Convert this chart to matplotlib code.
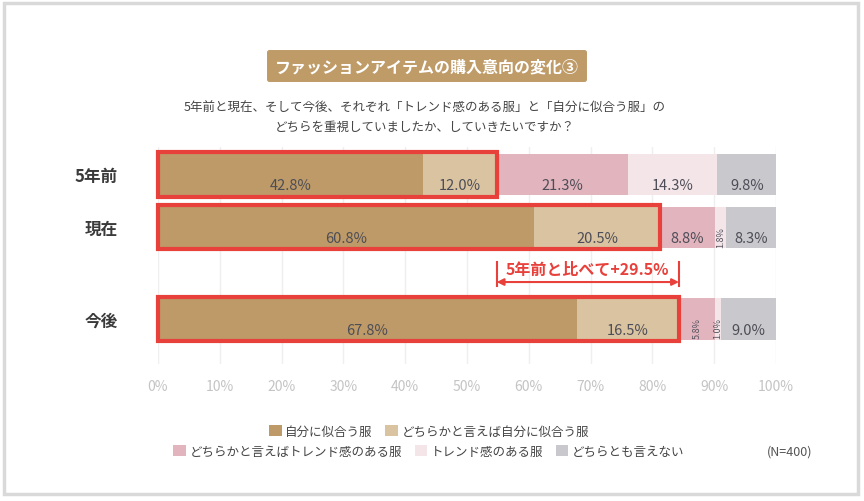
import matplotlib
matplotlib.use("Agg")
import matplotlib.pyplot as plt
from matplotlib.patches import Rectangle, Patch
import numpy as np

plt.rcParams['font.family'] = ['Noto Sans CJK JP', 'DejaVu Sans']

categories = ["5年前", "現在", "今後"]
series_names = ["自分に似合う服", "どちらかと言えば自分に似合う服",
                "どちらかと言えばトレンド感のある服", "トレンド感のある服", "どちらとも言えない"]
values = {
    "自分に似合う服": [42.8, 60.8, 67.8],
    "どちらかと言えば自分に似合う服": [12.0, 20.5, 16.5],
    "どちらかと言えばトレンド感のある服": [21.3, 8.8, 5.8],
    "トレンド感のある服": [14.3, 1.8, 1.0],
    "どちらとも言えない": [9.8, 8.3, 9.0],
}
colors = ["#bd9a67", "#d9c3a1", "#e2b4bd", "#f4e5e9", "#c9c8cd"]
xticks = [0, 10, 20, 30, 40, 50, 60, 70, 80, 90, 100]
xtick_labels = [f"{t}%" for t in xticks]
title = "ファッションアイテムの購入意向の変化③"
subtitle = ["5年前と現在、そして今後、それぞれ「トレンド感のある服」と「自分に似合う服」の",
            "どちらを重視していましたか、していきたいですか？"]
annotation = "5年前と比べて+29.5%"
n_note = "(N=400)"

W, H = 864, 502
fig = plt.figure(figsize=(W / 100, H / 100), dpi=100)

# frame border
fig.patches.append(Rectangle((4 / W, 1 - 495 / H), 854 / W, 491 / H, transform=fig.transFigure,
                             fill=False, edgecolor="#d9d9d9", lw=2.5))

ax_l, ax_r, ax_t, ax_b = 158, 776, 148, 365
ax = fig.add_axes([ax_l / W, 1 - ax_b / H, (ax_r - ax_l) / W, (ax_b - ax_t) / H])

ypos = np.array([0, 1, 2.74])
bar_h = 0.78
left = np.zeros(3)
for si, name in enumerate(series_names):
    v = np.array(values[name])
    ax.barh(ypos, v, left=left, height=bar_h, color=colors[si], zorder=2)
    for i in range(3):
        cx = left[i] + v[i] / 2
        if v[i] < 7:
            ax.text(cx, ypos[i] + 0.17, f"{v[i]:.1f}%", ha="center", va="center",
                    rotation=90, fontsize=6.5, color="#555560", zorder=4)
        else:
            ax.text(cx, ypos[i] + 0.2, f"{v[i]:.1f}%", ha="center", va="center",
                    fontsize=10.5, color="#4d4d57", zorder=4)
    left = left + v

# red highlight boxes around first two series
first_two = np.array(values[series_names[0]]) + np.array(values[series_names[1]])
for i in range(3):
    ax.add_patch(Rectangle((0, ypos[i] - 0.42), first_two[i], 0.84, fill=False,
                           edgecolor="#e8413c", lw=3, zorder=5, clip_on=False))

# annotation arrow
x0, x1 = first_two[0], first_two[2]
ay = 2.04
ax.annotate("", xy=(x0, ay), xytext=(x1, ay),
            arrowprops=dict(arrowstyle="<|-|>", color="#e8413c", lw=1.5,
                            mutation_scale=10, shrinkA=0, shrinkB=0), zorder=5)
for xx in (x0, x1):
    ax.plot([xx, xx], [1.66, 2.12], color="#e8413c", lw=1.5, zorder=5)
ax.text((x0 + x1) / 2, 1.8, annotation, ha="center", va="center", fontsize=11.5,
        color="#e8413c", fontweight="bold", zorder=6)

ax.set_xlim(0, 100)
ax.set_ylim(3.594, -0.52)
ax.set_xticks(xticks)
ax.set_xticklabels(xtick_labels, color="#c4c4c4", fontsize=10)
ax.set_yticks(ypos)
ax.set_yticklabels(categories, fontsize=12, color="#3a3a3a", fontweight="bold")
ax.tick_params(axis="both", length=0)
ax.tick_params(axis="x", pad=11)
ax.tick_params(axis="y", pad=29)
ax.grid(axis="x", color="#efefef", lw=1, zorder=0)
for s in ax.spines.values():
    s.set_visible(False)

# title
fig.text(427 / W, 1 - 67 / H, title, ha="center", va="center", fontsize=11.5,
         fontweight="bold", color="white",
         bbox=dict(boxstyle="round,pad=0.5,rounding_size=0.15", facecolor="#bf9b68", edgecolor="none"))
fig.text(425 / W, 1 - 108 / H, subtitle[0], ha="center", va="center", fontsize=9, color="#444444")
fig.text(425 / W, 1 - 127 / H, subtitle[1], ha="center", va="center", fontsize=9, color="#444444")

# legends
handles = [Patch(facecolor=colors[i], edgecolor="none", label=series_names[i]) for i in range(5)]
leg1 = fig.legend(handles=handles[:2], loc="center", bbox_to_anchor=(429 / W, 1 - 432 / H),
                  ncol=2, frameon=False, fontsize=9, handlelength=1.0, handleheight=1.0,
                  handletextpad=0.3, columnspacing=1.0, labelcolor="#444444")
leg2 = fig.legend(handles=handles[2:], loc="center", bbox_to_anchor=(429 / W, 1 - 452 / H),
                  ncol=3, frameon=False, fontsize=9, handlelength=1.0, handleheight=1.0,
                  handletextpad=0.3, columnspacing=1.0, labelcolor="#444444")
fig.text(790 / W, 1 - 452 / H, n_note, ha="center", va="center", fontsize=9, color="#555555")

fig.savefig("out.png", dpi=100)
